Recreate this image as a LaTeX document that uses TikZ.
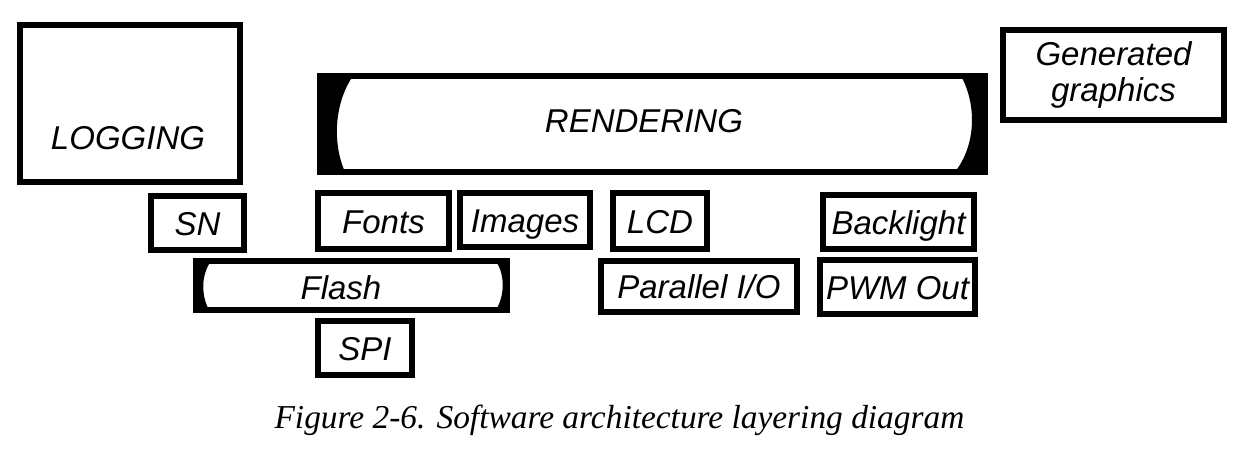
\documentclass[tikz,border=0pt]{standalone}
\usepackage{fontspec}
\setmainfont{Liberation Serif}
\setsansfont{Liberation Sans}
\begin{document}
\begin{tikzpicture}[x=.5pt, y=-.5pt,
  frame/.style={draw=black, line width=3pt, inner sep=0pt, align=center,
    font=\sffamily\itshape\fontsize{16.5}{18}\selectfont},
  box/.style={frame, text height=12pt, text depth=0pt},
  hand/.style={font=\sffamily\itshape\fontsize{16.5}{18}\selectfont},
  wedge/.style={fill=black}]

\useasboundingbox (0,0) rectangle (1255,467);

\node[frame, minimum width=110pt, minimum height=78.5pt] (logging) at (130,103.5) {};
\node[hand] (loggingtext) at (128,138) {LOGGING};

\node[frame, minimum width=332.5pt, minimum height=48pt] (rendering) at (652.5,124) {};
\fill[wedge] (320,76) -- (353,76) .. controls (336,100) and (331,140) .. (345,172) -- (320,172) -- cycle;
\fill[wedge] (985,76) -- (961,76) .. controls (977,105) and (976,145) .. (955,172) -- (985,172) -- cycle;
\node[hand] (renderingtext) at (644,121) {RENDERING};

\node[frame, minimum width=110.5pt, minimum height=45pt] (generated) at (1113.5,75) {Generated\\graphics};

\node[box, minimum width=46.5pt, minimum height=27pt] (sn) at (197.5,223) {SN};
\node[box, minimum width=65.5pt, minimum height=28pt] (fonts) at (383.5,221) {Fonts};
\node[box, minimum width=65pt, minimum height=27pt] (images) at (525,220) {Images};
\node[box, minimum width=47pt, minimum height=28pt] (lcd) at (660,221) {LCD};
\node[box, minimum width=75.5pt, minimum height=27pt] (backlight) at (898.5,222) {Backlight};

\node[frame, minimum width=155.5pt, minimum height=24.5pt] (flash) at (351.5,285.5) {};
\fill[wedge] (196,261) -- (211,261) .. controls (201,275) and (201,295) .. (209,310) -- (196,310) -- cycle;
\fill[wedge] (507,261) -- (496,261) .. controls (505,275) and (505,295) .. (496,310) -- (507,310) -- cycle;
\node[hand] (flashtext) at (341,288) {Flash};

\node[box, minimum width=98pt, minimum height=25.5pt] (parallel) at (699,286.5) {Parallel I/O};
\node[box, minimum width=77.5pt, minimum height=27pt] (pwm) at (897.5,287) {PWM Out};
\node[box, minimum width=47pt, minimum height=27pt] (spi) at (365,348) {SPI};

\node[anchor=base, font=\rmfamily\itshape\fontsize{16.7}{20}\selectfont] (caption) at (619.5,428) {Figure 2-6. Software architecture layering diagram};
\end{tikzpicture}
\end{document}
